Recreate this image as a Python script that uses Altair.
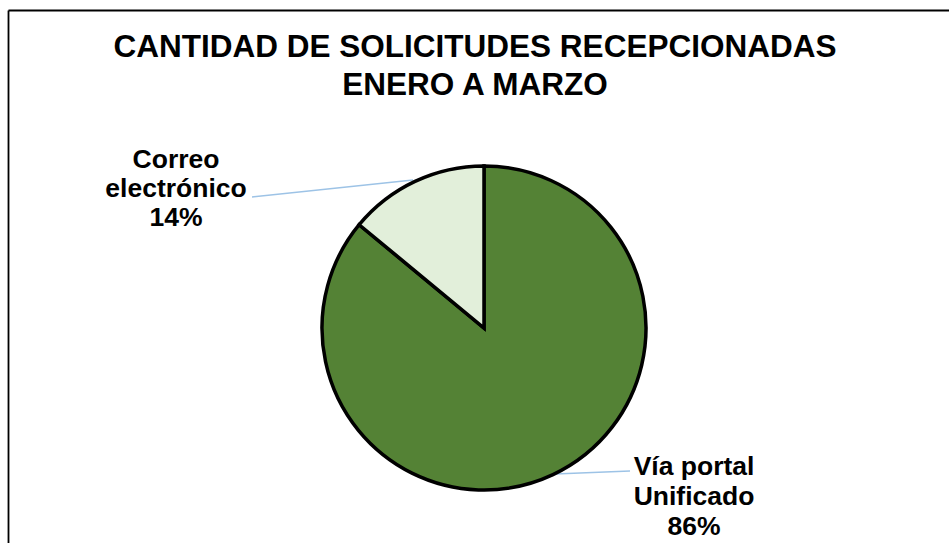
import altair as alt
import pandas as pd

W, H = 949, 543

# --- data ---
categories = ["Vía portal Unificado", "Correo electrónico"]
percent = [86, 14]
order = [1, 2]
colors = ["#548235", "#E2EFDA"]

title_lines = ["CANTIDAD DE SOLICITUDES RECEPCIONADAS", "ENERO A MARZO"]
label_lines = ["Correo", "electrónico", "14%", "Vía portal", "Unificado", "86%"]

# --- layout (pixel positions) ---
title_x = [475, 475]
title_y = [57, 95]
label_x = [176, 176, 176, 694, 694, 694]
label_y = [168, 197, 226, 475, 505, 535]
leader_x = [252, 555]
leader_y = [197, 474]
leader_x2 = [413, 630]
leader_y2 = [180, 471]
frame_x = [8.5, 8.5]
frame_y = [10.5, 10.5]
frame_x2 = [8.5, 949]
frame_y2 = [543, 10.5]

xs = alt.Scale(domain=[0, W], range=[0, W])
ys = alt.Scale(domain=[0, H], range=[0, H])

pie_df = pd.DataFrame({"cat": categories, "pct": percent, "ord": order})
pie = alt.Chart(pie_df).mark_arc(radius=162, stroke="black", strokeWidth=3.5).encode(
    theta=alt.Theta("pct:Q", stack=True),
    order=alt.Order("ord:Q"),
    color=alt.Color("cat:N", scale=alt.Scale(domain=categories, range=colors), legend=None),
    x=alt.value(484),
    y=alt.value(328),
)

title_df = pd.DataFrame({"t": title_lines, "x": title_x, "y": title_y})
title = alt.Chart(title_df).mark_text(
    font="Liberation Sans", fontWeight="bold", fontSize=31.5, color="black",
    align="center", baseline="alphabetic"
).encode(
    x=alt.X("x:Q", scale=xs, axis=None),
    y=alt.Y("y:Q", scale=ys, axis=None),
    text="t:N",
)

lab_df = pd.DataFrame({"t": label_lines, "x": label_x, "y": label_y})
labels = alt.Chart(lab_df).mark_text(
    font="Liberation Sans", fontWeight="bold", fontSize=26.5, color="black",
    align="center", baseline="alphabetic"
).encode(
    x=alt.X("x:Q", scale=xs, axis=None),
    y=alt.Y("y:Q", scale=ys, axis=None),
    text="t:N",
)

lead_df = pd.DataFrame({"x": leader_x, "y": leader_y, "x2": leader_x2, "y2": leader_y2})
leaders = alt.Chart(lead_df).mark_rule(color="#9DC3E6", strokeWidth=1.5).encode(
    x=alt.X("x:Q", scale=xs, axis=None),
    y=alt.Y("y:Q", scale=ys, axis=None),
    x2="x2:Q",
    y2="y2:Q",
)

frame_df = pd.DataFrame({"x": frame_x, "y": frame_y, "x2": frame_x2, "y2": frame_y2})
frame = alt.Chart(frame_df).mark_rule(color="black", strokeWidth=1.8).encode(
    x=alt.X("x:Q", scale=xs, axis=None),
    y=alt.Y("y:Q", scale=ys, axis=None),
    x2="x2:Q",
    y2="y2:Q",
)

chart = alt.layer(frame, leaders, pie, title, labels).properties(
    width=W, height=H, padding=0, autosize=alt.AutoSizeParams(type="none"),
    background="white",
).configure_view(stroke=None)

chart.save("out.html", embed_options={"renderer": "svg", "actions": False})
